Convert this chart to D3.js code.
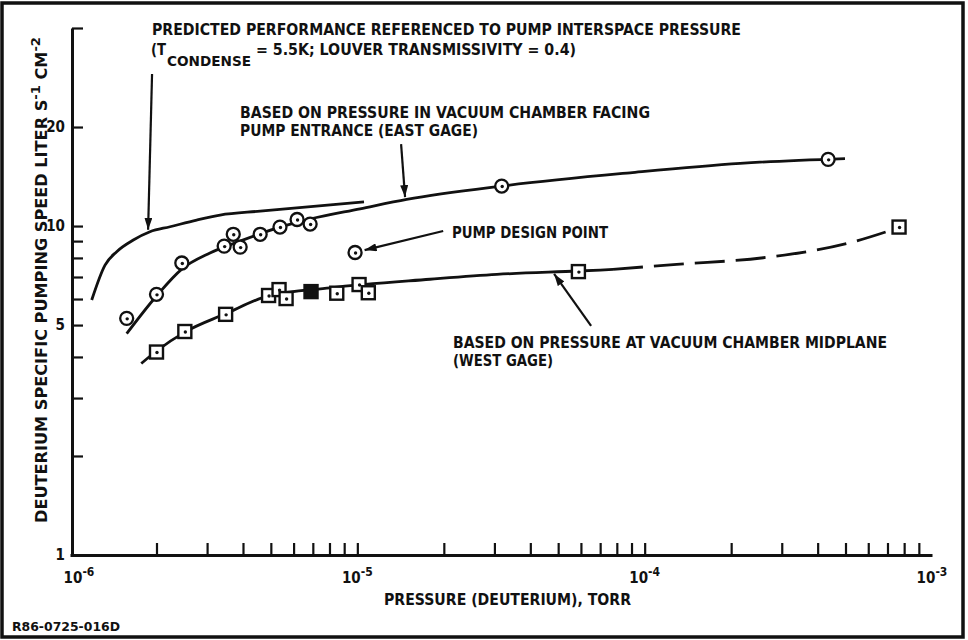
<!DOCTYPE html>
<html>
<head>
<meta charset="utf-8">
<script src="https://cdn.jsdelivr.net/npm/d3@7"></script>
<style>
  body { margin: 0; background: #fff; }
  text { font-family: "Liberation Sans Narrow", "DejaVu Sans Condensed", "Liberation Sans", sans-serif; font-weight: bold; fill: #111; }
</style>
</head>
<body>
<div id="chart"></div>
<script>
const WIDTH = 968;
const HEIGHT = 640;

// measured points, east gage (circles)
const eastPressure = [1.575e-6, 2.0e-6, 2.45e-6, 3.44e-6, 3.70e-6, 3.91e-6, 4.59e-6, 5.38e-6, 6.17e-6, 6.85e-6, 3.18e-5, 4.35e-4];
const eastSpeed    = [5.24, 6.20, 7.72, 8.69, 9.44, 8.63, 9.44, 9.93, 10.47, 10.14, 13.23, 15.95];

// pump design point
const designPressure = [9.82e-6];
const designSpeed    = [8.31];

// measured points, west gage (squares); one of them is drawn solid
const westPressure = [2.0e-6, 2.51e-6, 3.48e-6, 4.91e-6, 5.34e-6, 5.65e-6, 6.90e-6, 8.48e-6, 1.014e-5, 1.092e-5, 5.88e-5, 7.68e-4];
const westSpeed    = [4.14, 4.78, 5.39, 6.15, 6.41, 6.02, 6.32, 6.25, 6.64, 6.27, 7.27, 9.93];
const westFilled   = [false, false, false, false, false, false, true, false, false, false, false, false];

// predicted performance curve
const predictedPressure = [1.19e-6, 1.324e-6, 1.454e-6, 1.661e-6, 1.898e-6, 2.229e-6, 2.76e-6, 3.33e-6, 4.59e-6, 1.055e-5];
const predictedSpeed    = [5.96, 7.61, 8.36, 9.07, 9.61, 9.95, 10.43, 10.8, 11.1, 11.85];

// faired curve through east gage points
const eastFitPressure = [1.575e-6, 2.0e-6, 2.45e-6, 3.07e-6, 3.91e-6, 5.38e-6, 6.85e-6, 1.022e-5, 1.485e-5, 3.18e-5, 8.9e-5, 2.15e-4, 4.98e-4];
const eastFitSpeed    = [4.71, 6.13, 7.40, 8.28, 9.0, 9.93, 10.5, 11.28, 12.05, 13.23, 14.52, 15.51, 16.04];

// faired curve through west gage points (solid part, then dashed extrapolation)
const westFitPressure = [1.77e-6, 2.0e-6, 2.51e-6, 3.46e-6, 4.89e-6, 8.04e-6, 1.79e-5, 3.06e-5, 5.86e-5, 7.76e-5];
const westFitSpeed    = [3.82, 4.17, 4.76, 5.40, 6.13, 6.49, 6.89, 7.13, 7.30, 7.38];
const westDashPressure = [7.76e-5, 1.293e-4, 2.59e-4, 5.19e-4, 7.64e-4];
const westDashSpeed    = [7.38, 7.65, 8.01, 8.90, 9.88];

// tick labels
const xTickValues = [1e-6, 1e-5, 1e-4, 1e-3];
const xTickExponents = ["-6", "-5", "-4", "-3"];
const yTickValues = [1, 5, 10, 20];
const yTickLabels = ["1", "5", "10", "20"];

let svg = d3.select("#chart")
    .append("svg")
    .attr("width", WIDTH)
    .attr("height", HEIGHT);

let x = d3.scaleLog().domain([1e-6, 1e-3]).range([70, 932]);
let y = d3.scaleLog().domain([1, 40]).range([555, 28]);

// frame round the whole figure
svg.append("rect")
    .attr("x", 2).attr("y", 3)
    .attr("width", 961).attr("height", 634)
    .attr("fill", "none")
    .attr("stroke", "#111")
    .attr("stroke-width", 3.5);

// minor ticks 2..9 in each decade plus decade ticks
let xMinor = [];
[1e-6, 1e-5, 1e-4].forEach(function(dec) {
    for (let m = 2; m <= 10; m++) xMinor.push(dec * m);
});
xMinor = xMinor.filter(function(v) { return v < 1e-3 * 0.99; });

let xAxis = svg.append("g")
    .attr("transform", `translate(0,${y(1)})`)
    .call(d3.axisBottom(x).tickValues(xMinor).tickSize(-12).tickSizeOuter(0).tickFormat(""));
xAxis.select(".domain").attr("stroke", "#111").attr("stroke-width", 3);
xAxis.selectAll(".tick line").attr("stroke", "#111").attr("stroke-width", 2.2);

let yAxis = svg.append("g")
    .attr("transform", `translate(${x(1e-6) + 2},0)`)
    .call(d3.axisLeft(y).tickValues([2, 3, 4, 5, 6, 7, 8, 9, 10, 20, 40]).tickSize(-11).tickSizeOuter(0).tickFormat(""));
yAxis.select(".domain").attr("stroke", "#111").attr("stroke-width", 3);
yAxis.selectAll(".tick line").attr("stroke", "#111").attr("stroke-width", 2.2);

// x tick labels: 10 with superscript exponent
xTickValues.forEach(function(v, i) {
    let t = svg.append("text")
        .attr("x", x(v) + (i == 0 ? 9 : 0))
        .attr("y", 583)
        .attr("text-anchor", "middle")
        .style("font-size", "15px");
    t.append("tspan").text("10");
    t.append("tspan").attr("dy", -7).style("font-size", "12px").text(xTickExponents[i]);
});

// y tick labels
yTickValues.forEach(function(v, i) {
    svg.append("text")
        .attr("x", 65)
        .attr("y", y(v) + 5)
        .attr("text-anchor", "end")
        .style("font-size", "15px")
        .text(yTickLabels[i]);
});

// axis titles
svg.append("text")
    .attr("x", 384).attr("y", 605)
    .attr("textLength", 247).attr("lengthAdjust", "spacingAndGlyphs")
    .style("font-size", "16px")
    .text("PRESSURE (DEUTERIUM), TORR");

let yTitle = svg.append("text")
    .attr("transform", "translate(47,523) rotate(-90)")
    .attr("textLength", 486).attr("lengthAdjust", "spacingAndGlyphs")
    .style("font-size", "16px");
yTitle.append("tspan").text("DEUTERIUM SPECIFIC PUMPING SPEED LITER S");
yTitle.append("tspan").attr("dy", -7).style("font-size", "13px").text("-1");
yTitle.append("tspan").attr("dy", 7).text(" CM");
yTitle.append("tspan").attr("dy", -7).style("font-size", "13px").text("-2");

svg.append("text")
    .attr("x", 12).attr("y", 631)
    .attr("textLength", 108).attr("lengthAdjust", "spacingAndGlyphs")
    .style("font-size", "12.5px")
    .text("R86-0725-016D");

// curves
let line = d3.line()
    .x(function(d) { return x(d[0]); })
    .y(function(d) { return y(d[1]); })
    .curve(d3.curveMonotoneX);

function drawCurve(ps, ss, dash) {
    svg.append("path")
        .attr("d", line(d3.zip(ps, ss)))
        .attr("fill", "none")
        .attr("stroke", "#111")
        .attr("stroke-width", 2.8)
        .attr("stroke-dasharray", dash);
}
drawCurve(predictedPressure, predictedSpeed, null);
drawCurve(eastFitPressure, eastFitSpeed, null);
drawCurve(westFitPressure, westFitSpeed, null);
drawCurve(westDashPressure, westDashSpeed, "30,11");

// circles (east gage and design point)
function drawCircles(ps, ss) {
    let g = svg.append("g");
    d3.zip(ps, ss).forEach(function(d) {
        g.append("circle")
            .attr("cx", x(d[0])).attr("cy", y(d[1]))
            .attr("r", 6.5)
            .attr("fill", "#fff")
            .attr("stroke", "#111")
            .attr("stroke-width", 2.3);
        g.append("circle")
            .attr("cx", x(d[0]) + 0.5).attr("cy", y(d[1]) + 0.5)
            .attr("r", 1.7)
            .attr("fill", "#111");
    });
}
drawCircles(eastPressure, eastSpeed);
drawCircles(designPressure, designSpeed);

// squares (west gage)
let sq = svg.append("g");
d3.zip(westPressure, westSpeed, westFilled).forEach(function(d) {
    sq.append("rect")
        .attr("x", x(d[0]) - 6.5).attr("y", y(d[1]) - 6.5)
        .attr("width", 13).attr("height", 13)
        .attr("fill", d[2] ? "#111" : "#fff")
        .attr("stroke", "#111")
        .attr("stroke-width", 2.4);
    sq.append("circle")
        .attr("cx", x(d[0]) + 0.5).attr("cy", y(d[1]) + 0.5)
        .attr("r", 1.7)
        .attr("fill", "#111");
});

// arrow annotations, given as [pressure, speed] from tail to head
let defs = svg.append("defs");
defs.append("marker")
    .attr("id", "head")
    .attr("markerUnits", "userSpaceOnUse")
    .attr("markerWidth", 13).attr("markerHeight", 8)
    .attr("refX", 12).attr("refY", 4)
    .attr("orient", "auto")
    .append("path")
    .attr("d", "M0,0 L12,4 L0,8 Z")
    .attr("fill", "#111");

const arrows = [
    [[1.93e-6, 29.0], [1.87e-6, 9.75]],
    [[1.42e-5, 17.75], [1.466e-5, 12.25]],
    [[1.99e-5, 9.66], [1.06e-5, 8.45]],
    [[6.51e-5, 4.97], [4.84e-5, 7.15]]
];
arrows.forEach(function(a) {
    svg.append("line")
        .attr("x1", x(a[0][0])).attr("y1", y(a[0][1]))
        .attr("x2", x(a[1][0])).attr("y2", y(a[1][1]))
        .attr("stroke", "#111")
        .attr("stroke-width", 2.2)
        .attr("marker-end", "url(#head)");
});

// annotation texts
function label(tx, ty, w, size, s) {
    return svg.append("text")
        .attr("x", tx).attr("y", ty)
        .attr("textLength", w).attr("lengthAdjust", "spacingAndGlyphs")
        .style("font-size", size + "px")
        .text(s);
}
label(152, 35, 589, 16, "PREDICTED PERFORMANCE REFERENCED TO PUMP INTERSPACE PRESSURE");
label(151, 55, 15, 16, "(T");
label(167, 66, 84, 14, "CONDENSE");
label(256, 55, 320, 16, "= 5.5K; LOUVER TRANSMISSIVITY = 0.4)");
label(240, 118, 410, 16, "BASED ON PRESSURE IN VACUUM CHAMBER FACING");
label(240, 136, 238, 16, "PUMP ENTRANCE (EAST GAGE)");
label(452, 238, 156, 16, "PUMP DESIGN POINT");
label(453, 348, 434, 16, "BASED ON PRESSURE AT VACUUM CHAMBER MIDPLANE");
label(453, 366, 100, 16, "(WEST GAGE)");
</script>
</body>
</html>
